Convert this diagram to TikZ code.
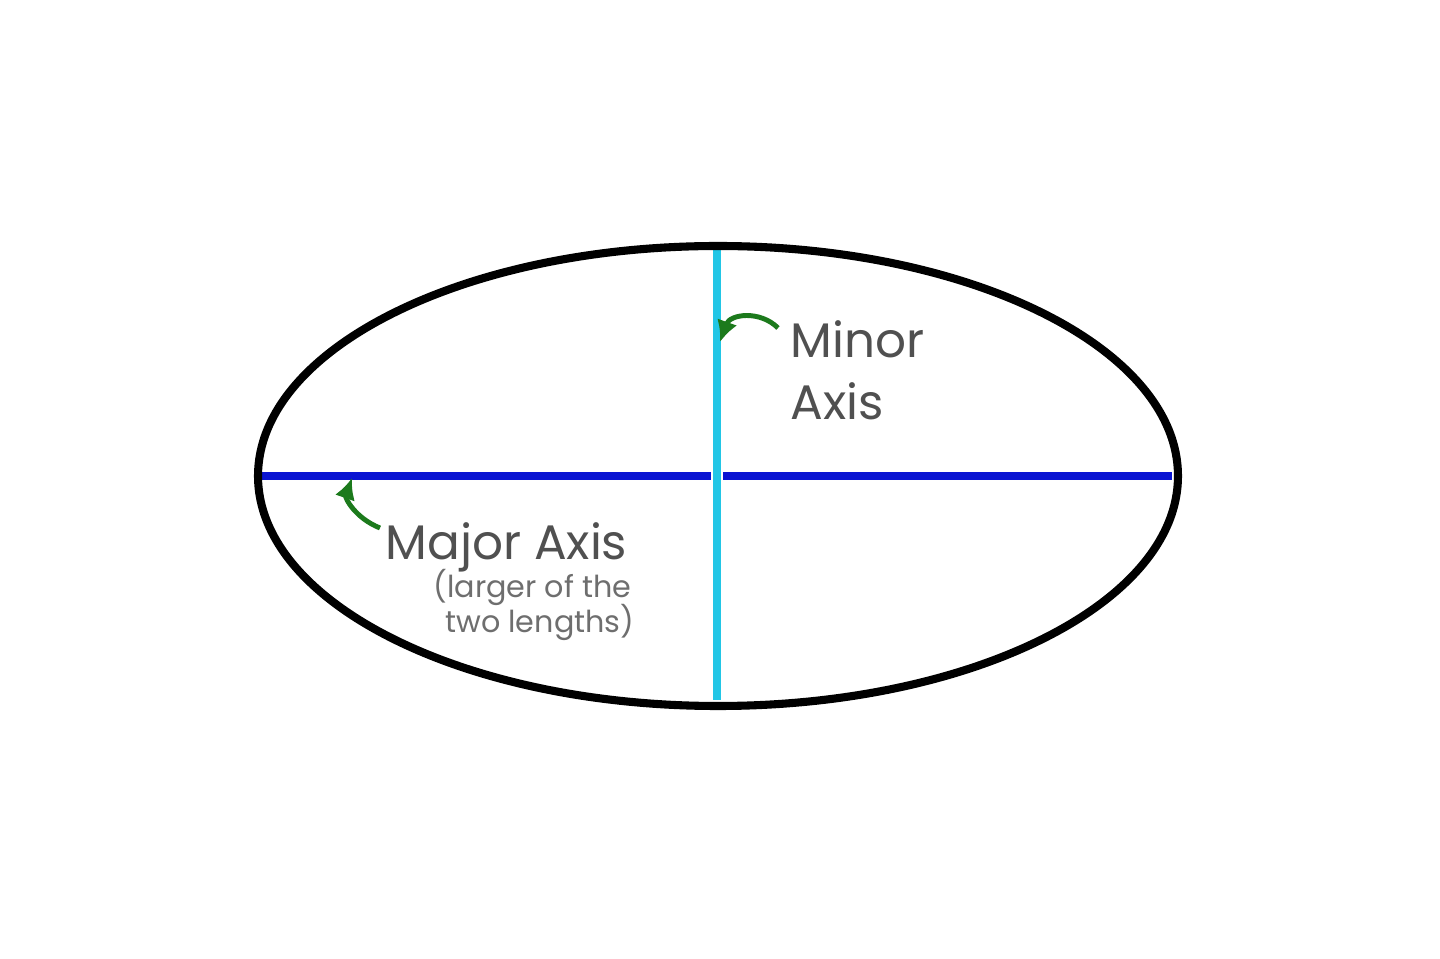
\documentclass[tikz,border=0pt]{standalone}
\usepackage{fontspec}
\setmainfont{Poppins}
\usepackage{xcolor}
\usetikzlibrary{calc,positioning,arrows.meta}
\definecolor{majorblue}{HTML}{0A14D2}
\definecolor{minorcyan}{HTML}{22C6E6}
\definecolor{pointgreen}{HTML}{1C7A1C}
\definecolor{labelgray}{HTML}{505050}
\definecolor{notegray}{HTML}{6E6E6E}
\tikzset{
  axislabel/.style={inner sep=0pt, text=labelgray, font=\fontsize{13.8}{17}\selectfont},
  axisnote/.style={inner sep=0pt, text=notegray, font=\fontsize{8.6}{10}\selectfont},
  pointer/.style={-{Latex[length=6pt,width=6pt]}, pointgreen, line width=1.4pt}
}

\begin{document}
\begin{tikzpicture}
  \useasboundingbox (0,0) rectangle (14.4,9.58);
  \coordinate (centre) at (7.18,4.82);
  % axes
  \draw[majorblue, line width=2.3pt] (2.62,4.82) -- (11.72,4.82);   % major axis
  \draw[white, line width=3.6pt] (7.17,7.06) -- (7.17,2.60);
  \draw[minorcyan, line width=2.3pt] (7.17,7.08) -- (7.17,2.58);    % minor axis
  \draw[black, line width=2.3pt] (centre) ellipse (4.6 and 2.3);
  % labels
  \node[axislabel, anchor=base west] (minor) at (7.90,6.00) {Minor};
  \node[axislabel, anchor=base west] (minorb) at (7.90,5.38) {Axis};
  \node[axislabel, anchor=base east] (major) at (6.28,3.98) {Major Axis};
  \node[axisnote, anchor=base east] (notea) at (6.32,3.60) {(larger of the};
  \node[axisnote, anchor=base east] (noteb) at (6.35,3.25) {two lengths)};
  % pointers
  \coordinate (minortail) at (7.78,6.30);
  \coordinate (minorhead) at (7.20,6.16);
  \coordinate (majortail) at (3.80,4.30);
  \coordinate (majorhead) at (3.52,4.80);
  \draw[pointer] (minortail) .. controls (7.60,6.48) and (7.30,6.44) .. (minorhead);
  \draw[pointer] (majortail) .. controls (3.55,4.40) and (3.45,4.60) .. (majorhead);
\end{tikzpicture}
\end{document}
